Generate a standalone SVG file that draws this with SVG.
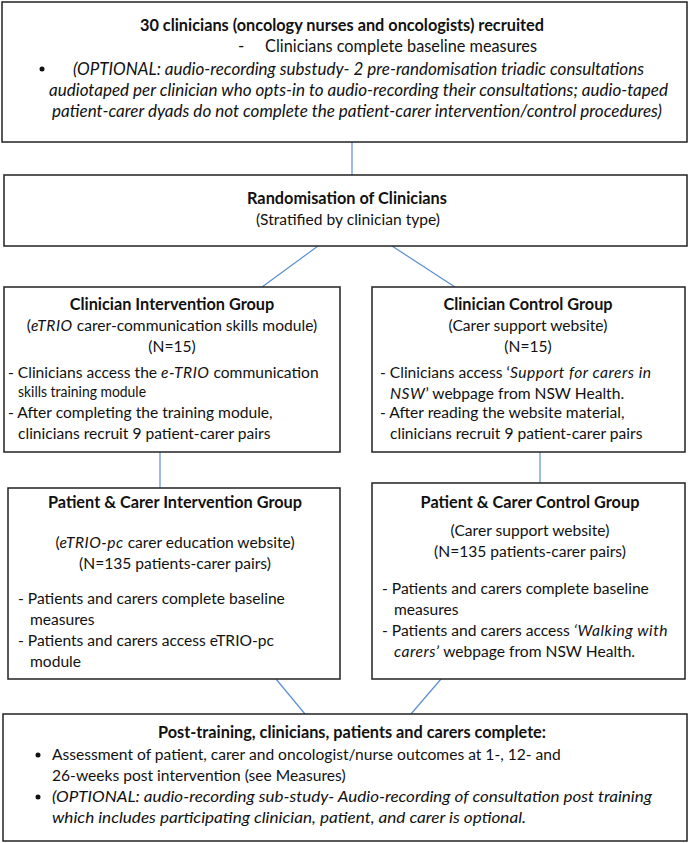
<svg xmlns="http://www.w3.org/2000/svg" width="689" height="843" viewBox="0 0 689 843">
<style>
.box{fill:#fff;stroke:#222;stroke-width:1.5}
.con{stroke:#5b8fd0;stroke-width:1.2;fill:none}
text{font-family:Lato,"Open Sans","Liberation Sans",sans-serif;font-size:15.6px;fill:#111}
.b{font-weight:bold;font-size:16.3px}
.c{text-anchor:middle}
.i{font-style:italic}
tspan.i{letter-spacing:0.5px}
.big{font-size:17px}
</style>
<rect width="689" height="843" fill="#fff"/>
<g id="connectors">
<line class="con" x1="352" y1="142" x2="352" y2="175"/>
<line class="con" x1="318" y1="246" x2="262" y2="287"/>
<line class="con" x1="392" y1="246" x2="455" y2="287"/>
<line class="con" x1="160" y1="452" x2="160" y2="488"/>
<line class="con" x1="540" y1="452" x2="540" y2="483"/>
<line class="con" x1="276" y1="679" x2="305" y2="714"/>
<line class="con" x1="441" y1="679" x2="411" y2="714"/>
</g>
<g id="recruit">
<rect class="box" x="2" y="2" width="685" height="140"/>
<text class="b c" x="342" y="31" textLength="404" lengthAdjust="spacingAndGlyphs">30 clinicians (oncology nurses and oncologists) recruited</text>
<text class="big" x="238" y="52">-</text>
<text class="big" x="265" y="52" textLength="272" lengthAdjust="spacingAndGlyphs">Clinicians complete baseline measures</text>
<circle cx="42" cy="69" r="2.5" fill="#111"/>
<text class="i big" x="73" y="75" textLength="571" lengthAdjust="spacingAndGlyphs">(OPTIONAL: audio-recording substudy- 2 pre-randomisation triadic consultations</text>
<text class="i big" x="49" y="96" textLength="619" lengthAdjust="spacingAndGlyphs">audiotaped per clinician who opts-in to audio-recording their consultations; audio-taped</text>
<text class="i big" x="52" y="117" textLength="610" lengthAdjust="spacingAndGlyphs">patient-carer dyads do not complete the patient-carer intervention/control procedures)</text>
</g>
<g id="randomisation">
<rect class="box" x="4" y="175" width="683" height="71"/>
<text class="b c" x="347" y="204">Randomisation of Clinicians</text>
<text class="c" x="348" y="225">(Stratified by clinician type)</text>
</g>
<g id="clin-int">
<rect class="box" x="4" y="287" width="336" height="165"/>
<text class="b c" x="172" y="310">Clinician Intervention Group</text>
<text class="c" x="172" y="331">(<tspan class="i">eTRIO</tspan> carer-communication skills module)</text>
<text class="c" x="172" y="352">(N=15)</text>
<text x="8" y="378">- Clinicians access the <tspan class="i">e-TRIO</tspan> communication</text>
<text x="18" y="397" textLength="128" lengthAdjust="spacingAndGlyphs">skills training module</text>
<text x="8" y="418">- After completing the training module,</text>
<text x="18" y="439">clinicians recruit 9 patient-carer pairs</text>
</g>
<g id="clin-ctrl">
<rect class="box" x="372" y="287" width="313" height="165"/>
<text class="b c" x="528" y="310">Clinician Control Group</text>
<text class="c" x="528" y="331">(Carer support website)</text>
<text class="c" x="528" y="352">(N=15)</text>
<text x="380" y="378">-  Clinicians access ‘<tspan class="i">Support for carers in</tspan></text>
<text x="390" y="399"><tspan class="i">NSW</tspan>’ webpage from NSW Health.</text>
<text x="380" y="418">-  After reading the website material,</text>
<text x="390" y="439">clinicians recruit 9 patient-carer pairs</text>
</g>
<g id="pc-int">
<rect class="box" x="8" y="488" width="332" height="191"/>
<text class="b c" x="175" y="508">Patient &amp; Carer Intervention Group</text>
<text class="c" x="175" y="548">(<tspan class="i">eTRIO-pc</tspan> carer education website)</text>
<text class="c" x="175" y="569">(N=135 patients-carer pairs)</text>
<text x="18" y="604">- Patients and carers complete baseline</text>
<text x="30" y="625">measures</text>
<text x="18" y="646">- Patients and carers access eTRIO-pc</text>
<text x="30" y="667">module</text>
</g>
<g id="pc-ctrl">
<rect class="box" x="372" y="483" width="313" height="196"/>
<text class="b c" x="530" y="508">Patient &amp; Carer Control Group</text>
<text class="c" x="530" y="536">(Carer support website)</text>
<text class="c" x="530" y="557">(N=135 patients-carer pairs)</text>
<text x="382" y="594">- Patients and carers complete baseline</text>
<text x="394" y="615">measures</text>
<text x="382" y="636">- Patients and carers access <tspan class="i">‘Walking with</tspan></text>
<text x="394" y="657"><tspan class="i">carers’</tspan> webpage from NSW Health.</text>
</g>
<g id="post">
<rect class="box" x="3" y="714" width="684" height="127"/>
<text class="b c" x="352" y="738">Post-training, clinicians, patients and carers complete:</text>
<circle cx="38" cy="755" r="2.5" fill="#111"/>
<text x="52" y="760">Assessment of patient, carer and oncologist/nurse outcomes at 1-, 12- and</text>
<text x="52" y="781">26-weeks post intervention (see Measures)</text>
<circle cx="38" cy="797" r="2.5" fill="#111"/>
<text class="i" x="52" y="802" textLength="600" lengthAdjust="spacingAndGlyphs">(OPTIONAL: audio-recording sub-study- Audio-recording of consultation post training</text>
<text class="i" x="52" y="823" textLength="474" lengthAdjust="spacingAndGlyphs">which includes participating clinician, patient, and carer is optional.</text>
</g>
</svg>
